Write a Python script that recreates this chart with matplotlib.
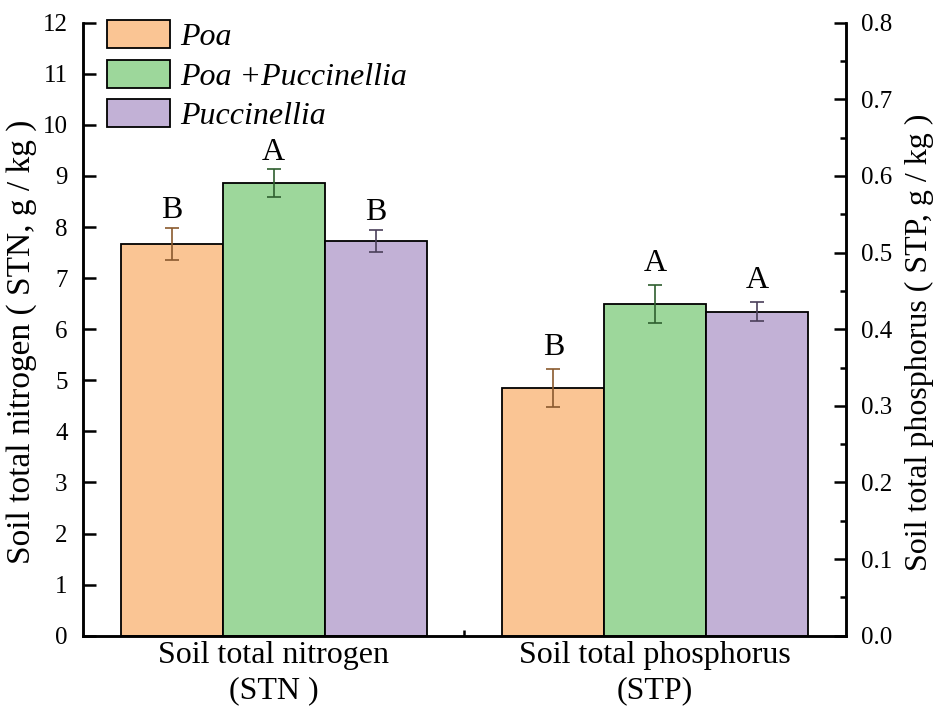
import numpy as np
import matplotlib
matplotlib.use('Agg')
import matplotlib.pyplot as plt
from matplotlib.ticker import MultipleLocator, FixedLocator, FormatStrFormatter

plt.rcParams['font.family'] = 'Liberation Serif'

groups = ['Soil total nitrogen\n(STN )', 'Soil total phosphorus\n(STP)']
treatments = ['Poa', 'Poa +Puccinellia', 'Puccinellia']
colors = ['#fac594', '#9dd79b', '#c2b1d6']
err_colors = ['#8a5a2e', '#2f5f2f', '#4a3f5a']

# STN in g/kg (left axis), STP in g/kg (right axis)
stn_mean = [7.67, 8.86, 7.73]
stn_err = [0.32, 0.27, 0.22]
stp_mean = [0.323, 0.433, 0.423]
stp_err = [0.025, 0.025, 0.012]
stn_letters = ['B', 'A', 'B']
stp_letters = ['B', 'A', 'A']

fig = plt.figure(figsize=(9.45, 7.18), dpi=100)
ax = fig.add_axes([0.0878, 0.1146, 0.8074, 0.8537])
ax2 = ax.twinx()

width = 0.267
offsets = np.array([-1, 0, 1]) * width

handles = []
for i in range(3):
    b = ax.bar(0 + offsets[i], stn_mean[i], width, color=colors[i],
               edgecolor='black', linewidth=1.3, label=treatments[i], zorder=2)
    handles.append(b)
    ax.errorbar(0 + offsets[i], stn_mean[i], yerr=stn_err[i], fmt='none',
                ecolor=err_colors[i], elinewidth=1.2, capsize=5, capthick=1.2, zorder=3)
    ax.annotate(stn_letters[i], (0 + offsets[i], stn_mean[i] + stn_err[i]),
                xytext=(0, 2), textcoords='offset points', ha='center', va='bottom',
                fontsize=23)

    ax2.bar(1 + offsets[i], stp_mean[i], width, color=colors[i],
            edgecolor='black', linewidth=1.3, zorder=2)
    ax2.errorbar(1 + offsets[i], stp_mean[i], yerr=stp_err[i], fmt='none',
                 ecolor=err_colors[i], elinewidth=1.2, capsize=5, capthick=1.2, zorder=3)
    ax2.annotate(stp_letters[i], (1 + offsets[i], stp_mean[i] + stp_err[i]),
                 xytext=(0, 5), textcoords='offset points', ha='center', va='bottom',
                 fontsize=23)

ax.set_xlim(-0.5, 1.5)
ax.set_ylim(0, 12)
ax2.set_ylim(0, 0.8)

ax.set_xticks([0, 1])
ax.set_xticklabels(groups, fontsize=23, linespacing=1.25)
ax.xaxis.set_minor_locator(FixedLocator([0.5]))
ax.yaxis.set_major_locator(MultipleLocator(1))
ax2.yaxis.set_major_locator(MultipleLocator(0.1))
ax2.yaxis.set_minor_locator(MultipleLocator(0.05))
ax2.yaxis.set_major_formatter(FormatStrFormatter('%.1f'))

ax.tick_params(axis='y', direction='in', length=9, width=1.8, labelsize=18, pad=11)
ax.tick_params(axis='x', which='major', direction='in', length=8, width=1.8, pad=4)
ax.tick_params(axis='x', which='minor', direction='in', length=4, width=1.8)
ax2.tick_params(axis='y', which='major', direction='in', length=9, width=1.8, labelsize=18, pad=11)
ax2.tick_params(axis='y', which='minor', direction='in', length=4, width=1.8)

for a in (ax, ax2):
    a.spines['top'].set_visible(False)
    for s in ('left', 'right', 'bottom'):
        a.spines[s].set_linewidth(1.8)

ax.set_ylabel('Soil total nitrogen ( STN, g / kg )', fontsize=24, labelpad=4)
ax.yaxis.label.set_y(0.48)
ax2.set_ylabel('Soil total phosphorus ( STP, g / kg )', fontsize=23, labelpad=9)
ax2.yaxis.label.set_y(0.478)

leg = ax.legend(handles=handles, loc='upper left', bbox_to_anchor=(107 / 945, 1 - 20 / 718),
                bbox_transform=fig.transFigure, frameon=False, borderpad=0,
                prop={'family': 'Liberation Serif', 'style': 'italic', 'size': 23},
                handlelength=1.97, handleheight=0.97, labelspacing=0.24, handletextpad=0.31,
                borderaxespad=0)

fig.savefig('out.png', dpi=100)
